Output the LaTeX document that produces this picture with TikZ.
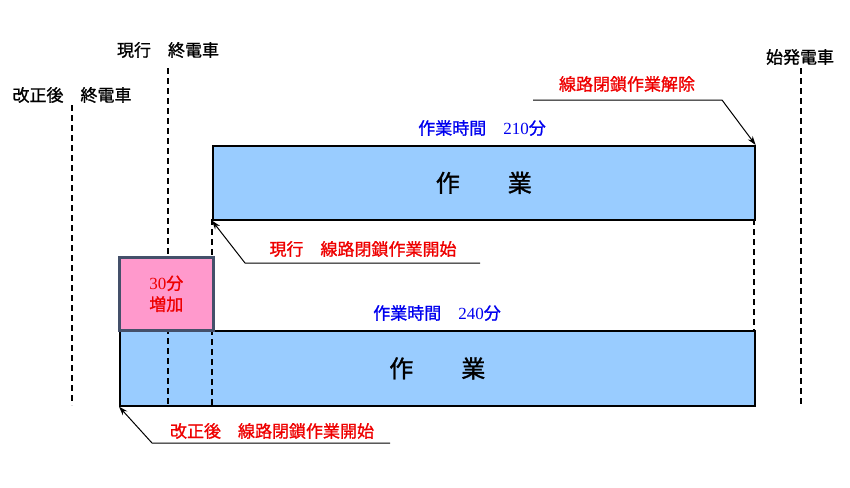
\documentclass[tikz,border=0pt]{standalone}
\usepackage{fontspec}
\setmainfont{Noto Sans CJK JP}[AutoFakeBold=1.2]
\newfontfamily\lat{Liberation Serif}
\newcommand{\dg}[1]{{\lat\mdseries #1}}
\usetikzlibrary{arrows.meta}
\definecolor{boxblue}{HTML}{99CCFF}
\definecolor{boxpink}{HTML}{FF99CC}
\definecolor{pinkedge}{HTML}{44506A}
\definecolor{txtblue}{HTML}{0000EE}
\definecolor{txtred}{HTML}{EE0000}
\tikzset{
  workbox/.style={draw=black, line width=1.6pt, fill=boxblue, anchor=north west, inner sep=0pt, font=\fontsize{24}{26}\selectfont\bfseries},
  addbox/.style={draw=pinkedge, line width=2.6pt, fill=boxpink, anchor=north west, inner sep=0pt, align=center, text=txtred, font=\fontsize{17}{21}\selectfont\bfseries},
  vline/.style={dashed, dash pattern=on 6pt off 4pt, line width=1.2pt, black},
  leader/.style={line width=1pt, black},
  lbl/.style={font=\fontsize{17}{20}\selectfont\bfseries, inner sep=0pt},
  redlbl/.style={lbl, text=txtred},
  bluelbl/.style={lbl, text=txtblue},
  tip/.style={-{Stealth[length=9pt,width=6pt]}}
}
\begin{document}
\begin{tikzpicture}[x=1pt,y=-1pt]
\useasboundingbox (0,0) rectangle (850,487);
% boxes
\node[workbox, minimum width=542pt, minimum height=74pt] (top) at (212,145) {作　　業};
\node[workbox, minimum width=635pt, minimum height=75pt] (bot) at (119,330) {作　　業};
% dashed time lines
\coordinate (a1) at (72,105); \coordinate (a2) at (72,405);
\coordinate (b1) at (168,68); \coordinate (b2) at (168,405);
\coordinate (c1) at (212,219); \coordinate (c2) at (212,405);
\coordinate (e1) at (754,219); \coordinate (e2) at (754,330);
\coordinate (f1) at (801,68); \coordinate (f2) at (801,405);
\draw[vline] (a1) -- (a2);
\draw[vline] (b1) -- (b2);
\draw[vline] (c1) -- (c2);
\draw[vline] (e1) -- (e2);
\draw[vline] (f1) -- (f2);
% added 30 minutes
\node[addbox, minimum width=94pt, minimum height=73pt] (add) at (118,256) {\dg{30}分\\増加};
% top labels
\node[lbl] (cur) at (168,50) {現行　終電車};
\node[lbl] (rev) at (72,95) {改正後　終電車};
\node[lbl] (first) at (800,57) {始発電車};
% work time labels
\node[bluelbl] (t1) at (482,128) {作業時間　\dg{210}分};
\node[bluelbl] (t2) at (437,313) {作業時間　\dg{240}分};
% release
\node[redlbl] (rel) at (627,84) {線路閉鎖作業解除};
\coordinate (r1) at (533,100); \coordinate (r2) at (722,100);
\draw[leader, tip] (r1) -- (r2) -- (top.north east);
% current start
\node[redlbl] (cs) at (363,249) {現行　線路閉鎖作業開始};
\coordinate (s1) at (480,263); \coordinate (s2) at (245,263);
\draw[leader, tip] (s1) -- (s2) -- (top.south west);
% revised start
\node[redlbl] (rs) at (272,431) {改正後　線路閉鎖作業開始};
\coordinate (u1) at (390,443); \coordinate (u2) at (152,443);
\draw[leader, tip] (u1) -- (u2) -- (bot.south west);
\end{tikzpicture}
\end{document}
